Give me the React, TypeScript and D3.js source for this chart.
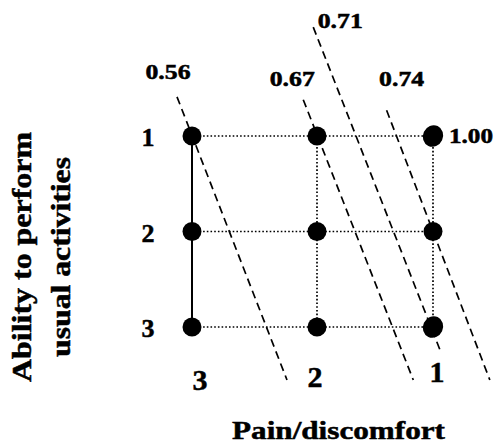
import * as d3 from "d3";

// Grid levels
const painLevels = [3, 2, 1];
const activityLevels = [1, 2, 3];
const bestStateLabel = "1.00";

// Iso-utility (dashed) lines: label, start [pain, activity], end [pain, activity]
const isoLabels = ["0.56", "0.67", "0.71", "0.74"];
const isoStart = [[3.12, 0.59], [2.11, 0.62], [2.03, -0.14], [1.4, 0.73]];
const isoEnd = [[2.24, 3.555], [1.17, 3.555], [0.93, 3.27], [0.51, 3.555]];

// label nudges relative to line top (px)
const isoLabelOffset = [[-9, -18], [-11, -14], [27, 1], [15, -24]];
const bottomLabelDy = [0, -3, -8];

const W = 499;
const H = 447;
const FONT = "Liberation Serif, Times New Roman, Times, serif";

const App = () => {
  const x: any = d3.scaleLinear().domain([3, 2, 1]).range([192, 317, 433]);
  const y: any = d3.scaleLinear().domain([1, 3]).range([136, 327]);

  const grid = d3.cross(painLevels, activityLevels);
  // a hair of stroke to get the heavy look of the original bold text
  const txt = { fontFamily: FONT, fontWeight: 700, stroke: "#000", strokeWidth: 0.5 };

  return (
    <svg
      width={W}
      height={H}
      style={{ position: "absolute", left: 0, top: 0, background: "#fff" }}
    >
      {/* dotted rows */}
      {activityLevels.map((a) => (
        <line
          key={"r" + a}
          x1={x(3)}
          x2={x(1)}
          y1={y(a)}
          y2={y(a)}
          stroke="#000"
          strokeWidth={1.7}
          strokeDasharray="1.6,2.1"
        />
      ))}
      {/* dotted columns for levels 2 and 1, solid for 3 */}
      {painLevels.map((p) => (
        <line
          key={"c" + p}
          x1={x(p)}
          x2={x(p)}
          y1={y(1)}
          y2={y(3)}
          stroke="#000"
          strokeWidth={p === 3 ? 2 : 1.7}
          strokeDasharray={p === 3 ? undefined : "1.6,2.1"}
        />
      ))}

      {/* dashed iso lines */}
      {isoLabels.map((lab, i) => (
        <g key={lab}>
          <line
            x1={x(isoStart[i][0])}
            y1={y(isoStart[i][1])}
            x2={x(isoEnd[i][0])}
            y2={y(isoEnd[i][1])}
            stroke="#000"
            strokeWidth={1.7}
            strokeDasharray="8,5"
          />
          <text
            x={x(isoStart[i][0]) + isoLabelOffset[i][0]}
            y={y(isoStart[i][1]) + isoLabelOffset[i][1]}
            textAnchor="middle"
            fontSize={20}
            textLength={45}
            lengthAdjust="spacingAndGlyphs"
            style={txt}
          >
            {lab}
          </text>
        </g>
      ))}

      {/* grid points */}
      {grid.map(([p, a]) => {
        const big = p === 1 && (a === 1 || a === 3);
        return big ? (
          <ellipse
            key={p + "-" + a}
            cx={x(p)}
            cy={y(a)}
            rx={10}
            ry={11}
            transform={`rotate(25 ${x(p)} ${y(a)})`}
            fill="#000"
          />
        ) : (
          <circle key={p + "-" + a} cx={x(p)} cy={y(a)} r={9.5} fill="#000" />
        );
      })}

      <text
        x={x(1) + 16}
        y={y(1) + 7}
        fontSize={20}
        textLength={44}
        lengthAdjust="spacingAndGlyphs"
        style={txt}
      >
        {bestStateLabel}
      </text>

      {/* row labels */}
      {activityLevels.map((a) => (
        <text key={"rl" + a} x={148} y={y(a) + 10} textAnchor="middle" fontSize={26} style={txt}>
          {a}
        </text>
      ))}

      {/* column labels */}
      {painLevels.map((p, i) => (
        <text
          key={"cl" + p}
          x={x(p) + (p === 3 ? 8 : p === 2 ? -2 : 4)}
          y={390 + bottomLabelDy[i]}
          textAnchor="middle"
          fontSize={30}
          style={txt}
        >
          {p}
        </text>
      ))}

      {/* axis titles */}
      <text
        x={232}
        y={439}
        fontSize={26}
        textLength={213}
        lengthAdjust="spacingAndGlyphs"
        style={txt}
      >
        Pain/discomfort
      </text>
      <g transform="translate(0,257) rotate(-90)">
        <text
          x={0}
          y={31}
          textAnchor="middle"
          fontSize={27}
          textLength={250}
          lengthAdjust="spacingAndGlyphs"
          style={txt}
        >
          Ability to perform
        </text>
        <text
          x={0}
          y={70}
          textAnchor="middle"
          fontSize={27}
          textLength={200}
          lengthAdjust="spacingAndGlyphs"
          style={txt}
        >
          usual activities
        </text>
      </g>
    </svg>
  );
};

export default App;
